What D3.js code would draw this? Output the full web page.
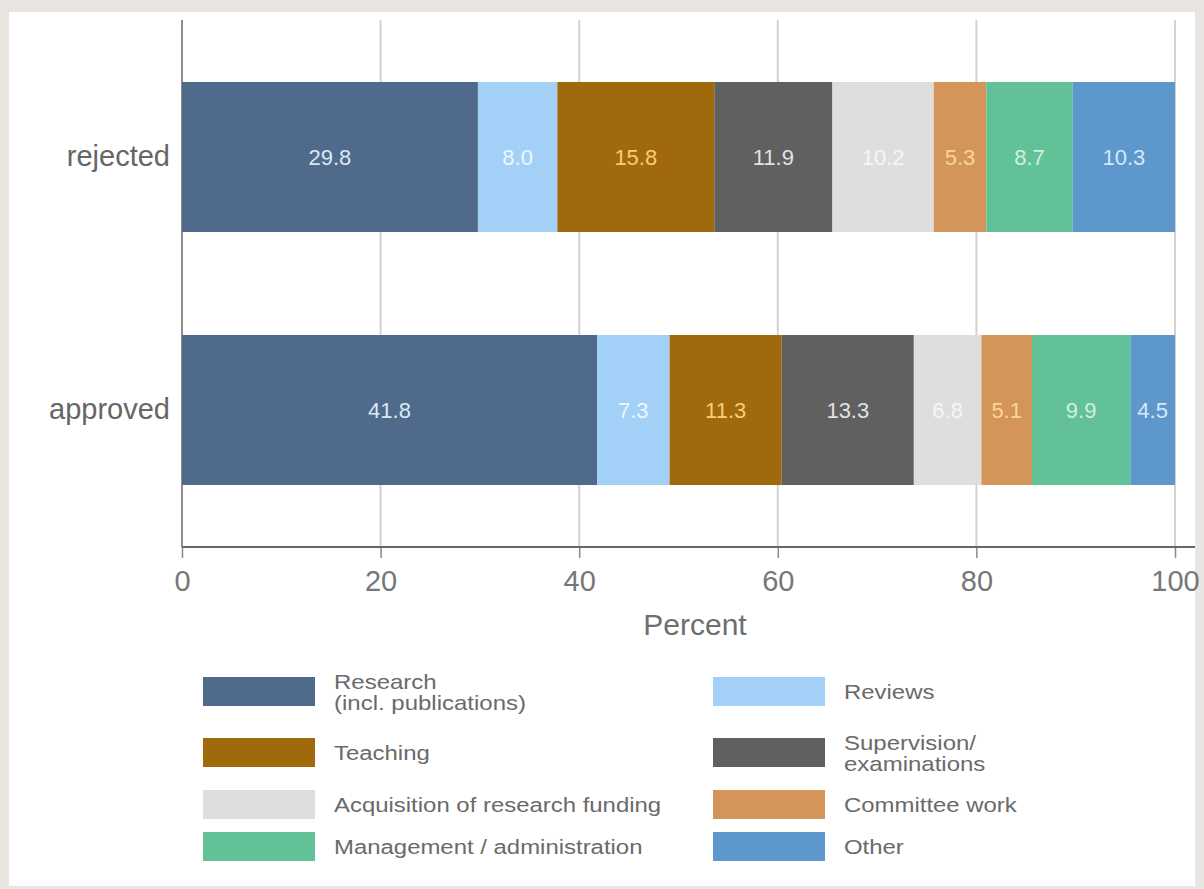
<!DOCTYPE html>
<html>
<head>
<meta charset="utf-8">
<script src="https://cdn.jsdelivr.net/npm/d3@7"></script>
<style>
  html, body { margin: 0; padding: 0; background: #e9e5e1; }
  svg { display: block; font-family: "Liberation Sans", Arial, Helvetica, sans-serif; }
</style>
</head>
<body>
<svg id="chart" width="1204" height="889"></svg>
<script>
// ---- data ----
const groups = ["rejected", "approved"];
const seriesNames = [
  "Research (incl. publications)", "Reviews", "Teaching", "Supervision/examinations",
  "Acquisition of research funding", "Committee work", "Management / administration", "Other"
];
const legendLines = [
  ["Research", "(incl. publications)"], ["Reviews"], ["Teaching"], ["Supervision/", "examinations"],
  ["Acquisition of research funding"], ["Committee work"], ["Management / administration"], ["Other"]
];
const rejectedValues = [29.8, 8.0, 15.8, 11.9, 10.2, 5.3, 8.7, 10.3];
const approvedValues = [41.8, 7.3, 11.3, 13.3, 6.8, 5.1, 9.9, 4.5];
const xTicks = [0, 20, 40, 60, 80, 100];
const xTitle = "Percent";

// ---- styles ----
const barColors = ["#4f6a8a", "#a3d0f7", "#a0690b", "#5f605f", "#dedede", "#d4955a", "#62c196", "#5e97cc"];
const labelColors = ["#dbe7f5", "#eef7ff", "#f7cd78", "#e2e2e2", "#f6f6f6", "#fbd598", "#cdf2df", "#d3e8fb"];

const valuesByGroup = { rejected: rejectedValues, approved: approvedValues };

const svg = d3.select("#chart");
svg.append("rect").attr("x", 9).attr("y", 12).attr("width", 1186).attr("height", 874).attr("fill", "#ffffff");

const x = d3.scaleLinear().domain([0, 100]).range([182, 1175]);
const y = d3.scaleBand().domain(groups).range([30.5, 536.5]).paddingInner(0.4071).paddingOuter(0.2035);
const color = d3.scaleOrdinal().domain(seriesNames).range(barColors);
const lblColor = d3.scaleOrdinal().domain(seriesNames).range(labelColors);

const gridTop = 20, axisY = 547;

// gridlines
svg.append("g").selectAll("line").data(xTicks).join("line")
  .attr("x1", d => x(d)).attr("x2", d => x(d))
  .attr("y1", gridTop).attr("y2", axisY)
  .attr("stroke", d => d === 0 ? "#8e8e8e" : "#d2d2d2")
  .attr("stroke-width", 2);

// stacked data
const rows = groups.map(g => {
  const o = { group: g };
  seriesNames.forEach((s, i) => o[s] = valuesByGroup[g][i]);
  return o;
});
const stacked = d3.stack().keys(seriesNames)(rows);

const layer = svg.append("g").selectAll("g").data(stacked).join("g")
  .attr("fill", d => color(d.key));
layer.selectAll("rect").data(d => d.map(v => Object.assign(v, { key: d.key }))).join("rect")
  .attr("x", d => x(d[0]))
  .attr("width", d => x(d[1]) - x(d[0]))
  .attr("y", d => y(d.data.group))
  .attr("height", y.bandwidth());

// value labels
const lblG = svg.append("g");
stacked.forEach(s => {
  s.forEach(d => {
    lblG.append("text")
      .attr("x", (x(d[0]) + x(d[1])) / 2)
      .attr("y", y(d.data.group) + y.bandwidth() / 2)
      .attr("dy", "0.36em")
      .attr("text-anchor", "middle")
      .attr("font-size", 22)
      .attr("fill", lblColor(s.key))
      .text(d3.format(".1f")(d[1] - d[0]));
  });
});

// x axis
const xAxis = d3.axisBottom(x).tickValues(xTicks).tickSize(11).tickPadding(12).tickFormat(d3.format("d"));
const ax = svg.append("g").attr("transform", `translate(0,${axisY})`).call(xAxis);
ax.select(".domain").remove();
ax.selectAll(".tick line").attr("stroke", "#8a8a8a").attr("stroke-width", 1.5);
ax.selectAll(".tick text").attr("font-size", 29).attr("fill", "#777").attr("font-family", "Liberation Sans, Arial, sans-serif");
svg.append("line").attr("x1", 182).attr("x2", 1195).attr("y1", axisY).attr("y2", axisY)
  .attr("stroke", "#666").attr("stroke-width", 2);

svg.append("text").attr("x", 695).attr("y", 635).attr("text-anchor", "middle")
  .attr("font-size", 30).attr("fill", "#6e6e6e").text(xTitle);

// y axis labels
const yAxis = d3.axisLeft(y).tickSize(0).tickPadding(12);
const ay = svg.append("g").attr("transform", `translate(${x(0)},0)`).call(yAxis);
ay.select(".domain").remove();
ay.selectAll(".tick text").attr("font-size", 29).attr("fill", "#666").attr("dy", "0.32em")
  .attr("font-family", "Liberation Sans, Arial, sans-serif");

// legend
const colX = [203, 713];
const rowTop = [677, 738, 790, 832];
const leg = svg.append("g");
seriesNames.forEach((s, i) => {
  const cx = colX[i % 2], ry = rowTop[Math.floor(i / 2)];
  leg.append("rect").attr("x", cx).attr("y", ry).attr("width", 112).attr("height", 29).attr("fill", color(s));
  const lines = legendLines[i];
  const two = lines.length > 1;
  const baselines = two ? [ry + 12, ry + 33] : [ry + 22];
  lines.forEach((ln, k) => {
    leg.append("text")
      .attr("transform", `translate(${cx + 131},${baselines[k]}) scale(${two ? 1.2 : 1.14},1)`)
      .attr("font-size", two ? 20 : 21)
      .attr("fill", "#6a6a6a")
      .text(ln);
  });
});
</script>
</body>
</html>
